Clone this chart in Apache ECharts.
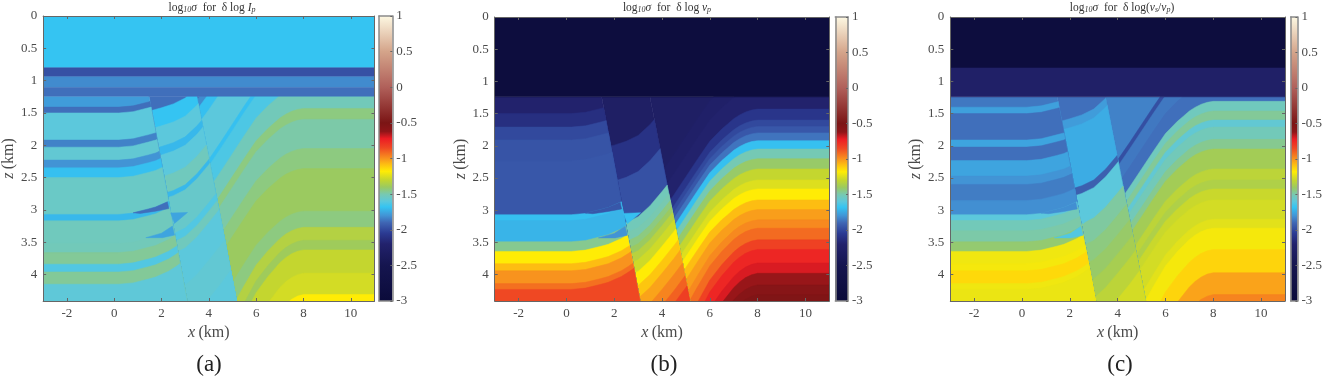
<!DOCTYPE html>
<html><head><meta charset="utf-8">
<style>html,body{margin:0;padding:0;background:#fff}#c{width:1325px;height:378px}</style>
<script src="https://cdn.jsdelivr.net/npm/echarts@6/dist/echarts.min.js"></script>
</head><body><div id="c"></div>
<script>
// tick labels
const xTicks=[-2,0,2,4,6,8,10];
const zTicks=[0,0.5,1,1.5,2,2.5,3,3.5,4];
const X_MIN=-3,X_MAX=11,Z_MAX=4.41,Z_COVER=1.24;
// colormap
const cmapV=[-3,-2.5,-2.2,-2.05,-1.9,-1.8,-1.68,-1.6,-1.5,-1.4,-1.3,-1.18,-1.08,-1,-.85,-.72,-.62,-.5,0,.5,1];
const cmapC=['#0b0b3a','#15154f','#22226c','#2b3a92','#3f66b4','#4294d5','#35c4f2','#5cc8dc','#78c9b0','#9bca60','#c4d62f','#ffec05','#fdbd12','#f8931e','#ef4823','#ec1c24','#8f1518','#7b1515','#b0605a','#d4a48a','#fdf8e2'];
// faults (top x, bottom x at z=1.25 and z=4.41)
const fault1=[1.48,3.08], fault2=[3.5,5.17];
// fold shapes
const foldLx=[-3,0.2,0.8,1.45,1.75,2.3,2.6,3.1,4], foldLd=[0,0,.02,.08,.11,.2,.27,.4,.7];
const foldMx=[1,1.5,2,2.5,3,3.5,4,4.5,5.2,6], foldMd=[0,.03,.08,.14,.23,.4,.62,.85,1.2,1.6];
const foldRx=[3,3.5,4,4.5,5,5.5,6,6.5,6.75,7,7.25,7.5,7.75,8,11], foldRd=[2.1,1.85,1.6,1.33,1.05,.77,.5,.31,.23,.15,.09,.045,.015,0,0];
// panel (a)
const aCoverTops=[0,.8,.94,1.105], aCoverVals=[-1.68,-1.97,-1.82,-1.88];
const aLTops=[1,1.41,1.5,1.92,2.03,2.23,2.35,2.5,3.07,3.17,3.52,3.66,3.84,3.96,4.15];
const aLVals=[-1.78,-1.88,-1.6,-1.84,-1.58,-1.8,-1.69,-1.55,-1.71,-1.53,-1.52,-1.47,-1.62,-1.47,-1.59];
const aMTops=[0,1.5,1.78,2.1,2.23,2.57,2.84,2.92,3.51,3.64,3.82,4.4,5.0];
const aMVals=[-1.88,-1.68,-1.6,-1.71,-1.6,-1.53,-1.71,-1.56,-1.62,-1.53,-1.6,-1.58,-1.6];
const aRTops=[-4,-.55,-.4,-.15,.62,.72,1.08,1.43,1.6,2.05,2.36,3.02,3.27,3.47,3.62,3.98,4.31];
const aRVals=[-1.9,-1.82,-1.69,-1.6,-1.69,-1.63,-1.52,-1.44,-1.49,-1.44,-1.4,-1.44,-1.34,-1.39,-1.3,-1.27,-1.18];
const aLensVals=[-1.88,-1.76,-1.76];
// panel (b)
const bCoverTops=[0], bCoverVals=[-2.9];
const bLTops=[1,1.5,1.71,1.91,2.23,3.07,3.16,3.49,3.64,3.83,3.94,4.14,4.23];
const bLVals=[-2.2,-2.12,-2,-1.96,-1.95,-1.69,-1.72,-1.46,-1.18,-1.08,-1,-.93,-.85];
const bMTops=[0,2.07,2.63,3.33,3.5,3.63,3.75,3.86,4,4.18,4.4,4.6,4.85,5.1,5.3];
const bMVals=[-2.28,-2.1,-1.97,-1.52,-1.5,-1.44,-1.4,-1.33,-1.28,-1.18,-1.1,-1.03,-.97,-.9,-.82];
const bRTops=[-4,.8,1.1,1.43,1.6,1.7,1.8,1.92,2.05,2.2,2.36,2.53,2.67,2.84,2.99,3.15,3.28,3.46,3.61,3.82,3.98,4.16,4.31];
const bRVals=[-2.28,-2.24,-2.2,-2.08,-2,-1.95,-1.87,-1.69,-1.51,-1.41,-1.3,-1.25,-1.18,-1.08,-1.02,-.98,-.92,-.83,-.75,-.7,-.63,-.57,-.53];
const bLensVals=[-1.95,-1.8,-1.69];
// panel (c)
const cCoverTops=[0,.79], cCoverVals=[-2.9,-2.25];
const cLTops=[1,1.4,1.5,1.91,2.02,2.23,2.47,2.6,2.85,3.07,3.16,3.32,3.49,3.64,3.83,3.94,4.14,4.23];
const cLVals=[-1.86,-1.77,-1.88,-1.76,-1.88,-1.76,-1.8,-1.85,-1.81,-1.6,-1.52,-1.49,-1.42,-1.21,-1.2,-1.14,-1.21,-1.22];
const cMTops=[0,1.66,1.8,2.76,2.88,3.35,3.7,4,4.3,4.6,5];
const cMVals=[-1.88,-1.78,-1.74,-1.92,-1.6,-1.48,-1.44,-1.41,-1.37,-1.32,-1.27];
const cRTops=[-4,.62,.72,1,1.31,1.46,1.6,1.71,1.9,2.05,2.36,2.53,2.67,2.84,3.14,3.28,3.61,3.97,4.31];
const cRVals=[-1.84,-1.98,-1.86,-1.88,-1.53,-1.47,-1.58,-1.52,-1.46,-1.38,-1.32,-1.35,-1.29,-1.27,-1.24,-1.2,-1.13,-1.03,-.97];
const cLensVals=[-1.81,-1.62,-1.6];
// thin wedges (x, z corners), same place in each panel
const lensCorners=[
 [[.8,3.045],[1.45,2.985],[1.75,2.955],[2.25,2.875],[2.31,2.98],[1.75,3.02],[1.1,3.055]],
 [[1.34,3.43],[2,3.36],[2.46,3.25],[2.55,3.39],[2.04,3.43]],
 [[2.39,3.05],[3.1,3.04],[2.55,3.21]]
];

function hex(c){return [1,3,5].map(i=>parseInt(c.substr(i,2),16));}
function colorOf(v){
  if(v<=cmapV[0])return cmapC[0];
  for(let i=1;i<cmapV.length;i++){ if(v<=cmapV[i]){
    const t=(v-cmapV[i-1])/(cmapV[i]-cmapV[i-1]),a=hex(cmapC[i-1]),b=hex(cmapC[i]);
    return 'rgb('+a.map((q,j)=>Math.round(q+(b[j]-q)*t)).join(',')+')';}}
  return cmapC[cmapC.length-1];
}
function lookup(xs,ds,x){
  if(x<=xs[0])return ds[0]; 
  for(let i=1;i<xs.length;i++) if(x<=xs[i]) return ds[i-1]+(ds[i]-ds[i-1])*(x-xs[i-1])/(xs[i]-xs[i-1]);
  return ds[ds.length-1];
}
const faultX=(f,z)=>f[0]+(z-1.25)*(f[1]-f[0])/3.16;
function clip(pts,inside){
  const out=[];
  for(let i=0;i<pts.length;i++){
    const a=pts[i],b=pts[(i+1)%pts.length],fa=inside(a),fb=inside(b);
    if(fa>=0)out.push(a);
    if((fa>=0)!==(fb>=0)){const t=fa/(fa-fb);out.push([a[0]+(b[0]-a[0])*t,a[1]+(b[1]-a[1])*t]);}
  }
  return out;
}
function fine(xs){const s=new Set([X_MIN,X_MAX]);xs.forEach(x=>{if(x>X_MIN&&x<X_MAX)s.add(x);});return [...s].sort((a,b)=>a-b);}
function blockPolys(tops,vals,surface,xs,planes){
  const res=[];
  tops.forEach((t,i)=>{
    let pts=fine(xs).map(x=>[x,surface(t,x)]);
    pts.push([X_MAX,9],[X_MIN,9]);
    planes.forEach(pl=>{pts=clip(pts,pl);});
    if(pts.length>2)res.push({pts,v:vals[i]});
  });
  return res;
}
const bounds=[p=>Z_MAX-p[1],p=>p[1]-Z_COVER];
const leftOf=f=>p=>faultX(f,p[1])-p[0], rightOf=f=>p=>p[0]-faultX(f,p[1]);
function panelPolys(coverT,coverV,LT,LV,MT,MV,RT,RV,lensV){
  let polys=[];
  polys=polys.concat(blockPolys(RT,RV,(t,x)=>t+(1+.45*Math.max(0,t-2.9))*lookup(foldRx,foldRd,x),foldRx,[...bounds,rightOf(fault2)]));
  polys=polys.concat(blockPolys(MT,MV,(t,x)=>t-lookup(foldMx,foldMd,x),foldMx,[...bounds,rightOf(fault1),leftOf(fault2)]));
  polys=polys.concat(blockPolys(LT,LV,(t,x)=>t-lookup(foldLx,foldLd,x),foldLx,[...bounds,leftOf(fault1)]));
  lensCorners.forEach((c,i)=>polys.push({pts:c,v:lensV[i]}));
  coverT.forEach((t,i)=>{const b=coverT[i+1]===undefined?Z_COVER:coverT[i+1];
    polys.push({pts:[[X_MIN,t],[X_MAX,t],[X_MAX,b],[X_MIN,b]],v:coverV[i]});});
  return polys;
}
const panels=[
 {left:39.5,top:16,width:335,height:285,cbLeft:379,cbW:13.3,
  polys:panelPolys(aCoverTops,aCoverVals,aLTops,aLVals,aMTops,aMVals,aRTops,aRVals,aLensVals),
  cx:207,tag:'(a)',tagX:204,math:'{m|δ log }{i|I}{s|p}',nameGap:30},
 {left:494.7,top:17,width:334.6,height:284,cbLeft:835.3,cbW:12.7,
  polys:panelPolys(bCoverTops,bCoverVals,bLTops,bLVals,bMTops,bMVals,bRTops,bRVals,bLensVals),
  cx:662,tag:'(b)',tagX:659,math:'{m|δ log }{i|v}{s|p}',nameGap:31},
 {left:950.3,top:17,width:334.7,height:284,cbLeft:1290.7,cbW:12.5,
  polys:panelPolys(cCoverTops,cCoverVals,cLTops,cLVals,cMTops,cMVals,cRTops,cRVals,cLensVals),
  cx:1117,tag:'(c)',tagX:1115,math:'{m|δ log(}{i|v}{s|s}{m|/}{i|v}{s|p}{m|)}',nameGap:31}
];
const FONT='"Liberation Serif","DejaVu Serif",serif';
const INK='#4a4a4a', FRAME='#666666';
const grids=[],xAxes=[],yAxes=[],series=[],titles=[];
const richName={i:{fontFamily:FONT,fontStyle:'italic',fontWeight:'normal',fontSize:16,color:INK},m:{fontFamily:FONT,fontWeight:'normal',fontSize:16,color:INK}};
panels.forEach(p=>{
  const gi=grids.length;
  grids.push({left:p.left,top:p.top,width:p.width,height:p.height});
  const xa=xAxes.length, ya=yAxes.length;
  const xb={gridIndex:gi,type:'value',min:X_MIN,max:X_MAX,z:5,splitLine:{show:false},
    axisLine:{show:true,onZero:false,lineStyle:{color:FRAME,width:1}},
    axisTick:{show:true,inside:true,length:3,customValues:xTicks,lineStyle:{color:FRAME}}};
  xAxes.push(Object.assign({},xb,{position:'bottom',name:'{i|x} {m|(km)}',nameLocation:'middle',nameGap:22,
    nameTextStyle:{rich:richName},
    axisLabel:{show:true,customValues:xTicks,fontFamily:FONT,fontSize:13,color:INK,margin:6}}));
  xAxes.push(Object.assign({},xb,{position:'top',axisLabel:{show:false}}));
  const yb={gridIndex:gi,type:'value',min:0,max:Z_MAX,inverse:true,z:5,splitLine:{show:false},
    axisLine:{show:true,onZero:false,lineStyle:{color:FRAME,width:1}},
    axisTick:{show:true,inside:true,length:3,customValues:zTicks,lineStyle:{color:FRAME}}};
  yAxes.push(Object.assign({},yb,{position:'left',name:'{i|z} {m|(km)}',nameLocation:'middle',nameGap:p.nameGap-8,nameRotate:90,
    nameTextStyle:{rich:richName},
    axisLabel:{show:true,customValues:zTicks,fontFamily:FONT,fontSize:13,color:INK,margin:6}}));
  yAxes.push(Object.assign({},yb,{position:'right',axisLabel:{show:false}}));
  const polys=p.polys;
  series.push({type:'custom',xAxisIndex:xa,yAxisIndex:ya,clip:true,silent:true,animation:false,progressive:0,
    data:polys.map((q,i)=>[i]),
    renderItem:(params,api)=>{
      const q=polys[api.value(0)],col=colorOf(q.v);
      return {type:'polygon',shape:{points:q.pts.map(c=>api.coord(c))},style:{fill:col,stroke:col,lineWidth:.5}};
    }});
  // colour bar
  const gc=grids.length;
  grids.push({left:p.cbLeft,top:p.top,width:p.cbW,height:p.height});
  const xc=xAxes.length,yc=yAxes.length;
  const cbX={gridIndex:gc,type:'value',min:0,max:1,z:5,splitLine:{show:false},axisTick:{show:false},axisLabel:{show:false},
    axisLine:{show:true,onZero:false,lineStyle:{color:'#8a8a8a',width:1.5}}};
  xAxes.push(Object.assign({},cbX,{position:'bottom'}),Object.assign({},cbX,{position:'top'}));
  const cbY={gridIndex:gc,type:'value',min:-3,max:1,interval:.5,z:5,splitLine:{show:false},
    axisLine:{show:true,onZero:false,lineStyle:{color:'#8a8a8a',width:1.5}}};
  yAxes.push(Object.assign({},cbY,{position:'left',axisTick:{show:false},axisLabel:{show:false}}));
  yAxes.push(Object.assign({},cbY,{position:'right',axisTick:{show:true,inside:true,length:2,lineStyle:{color:FRAME}},
    axisLabel:{show:true,fontFamily:FONT,fontSize:13,color:INK,margin:4}}));
  series.push({type:'custom',xAxisIndex:xc,yAxisIndex:yc,silent:true,animation:false,
    data:[[0]],
    renderItem:(params,api)=>{
      const a=api.coord([0,1]),b=api.coord([1,-3]);
      return {type:'rect',shape:{x:a[0],y:a[1],width:b[0]-a[0],height:b[1]-a[1]},
       style:{fill:new echarts.graphic.LinearGradient(0,1,0,0,cmapV.map((v,i)=>({offset:(v+3)/4,color:cmapC[i]})))}};
    }});
  const tw={fontFamily:FONT,fontWeight:'normal',color:'#333'};
  titles.push({left:p.cx,top:-4,textAlign:'center',
    text:'{m|log}{s|10}{j|σ}{m|  for  }'+p.math,
    textStyle:{fontWeight:'normal',rich:{
      m:Object.assign({},tw,{fontSize:11.5,lineHeight:13}),
      i:Object.assign({},tw,{fontSize:11.5,fontStyle:'italic',lineHeight:13}),
      j:Object.assign({},tw,{fontSize:11.5,fontStyle:'italic',lineHeight:13}),
      s:Object.assign({},tw,{fontSize:8,fontStyle:'italic',verticalAlign:'bottom',lineHeight:9})
    }}});
  titles.push({left:p.tagX,top:348,textAlign:'center',text:p.tag,
    textStyle:{fontFamily:FONT,fontSize:23,fontWeight:'normal',color:'#222'}});
});
const chart=echarts.init(document.getElementById('c'),null,{renderer:'canvas',width:1325,height:378});
chart.setOption({animation:false,backgroundColor:'#fff',title:titles,grid:grids,xAxis:xAxes,yAxis:yAxes,series});
</script></body></html>
